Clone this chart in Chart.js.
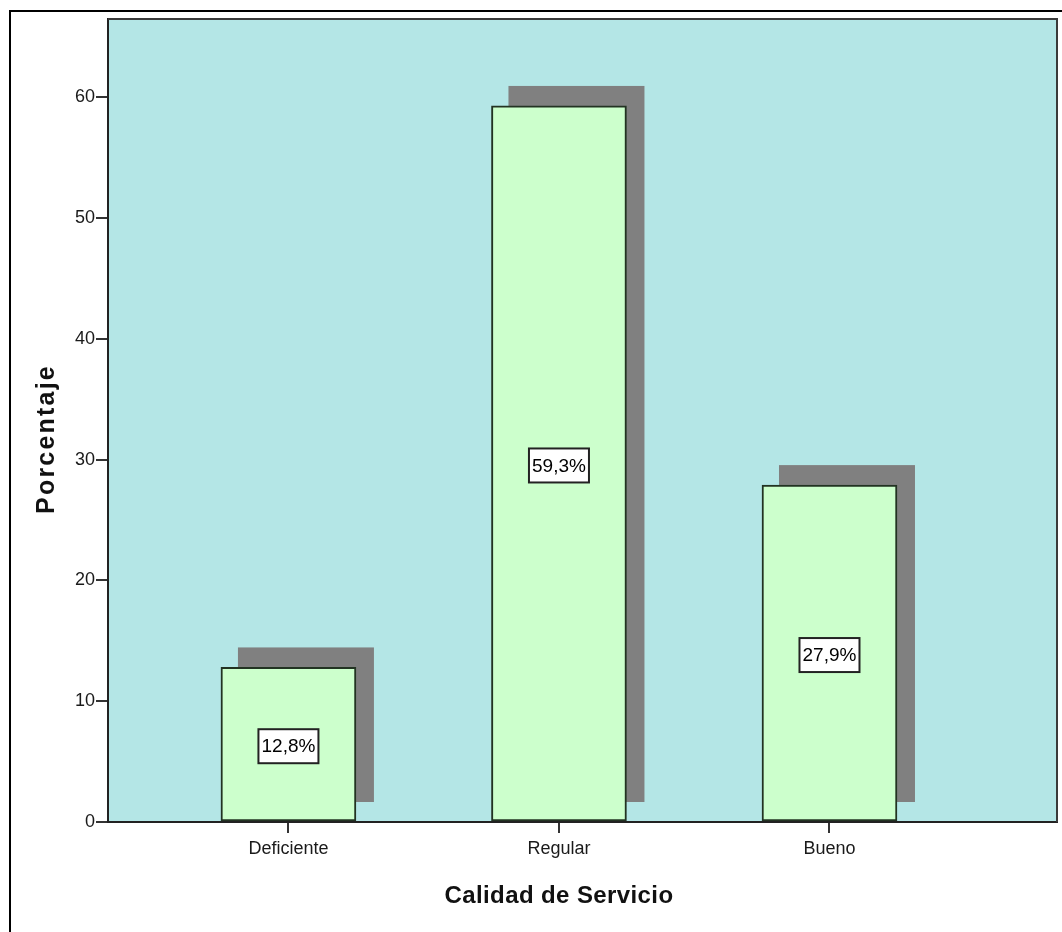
<!DOCTYPE html>
<html>
<head>
<meta charset="utf-8">
<script src="https://cdn.jsdelivr.net/npm/chart.js@4.4.1/dist/chart.umd.min.js"></script>
<style>
  html, body { margin: 0; padding: 0; background: #ffffff; }
  #wrap { width: 1062px; height: 932px; }
</style>
</head>
<body>
<div id="wrap"><canvas id="c" width="1062" height="932"></canvas></div>
<script>
// Calidad de Servicio — porcentaje por categoría
const categories = ['Deficiente', 'Regular', 'Bueno'];
const percentages = [12.8, 59.3, 27.9];
const yTickValues = [0, 10, 20, 30, 40, 50, 60];
const xTitle = 'Calidad de Servicio';
const yTitle = 'Porcentaje';

const SANS = '"Liberation Sans", Arial, sans-serif';

const formatPct = v => v.toFixed(1).replace('.', ',') + '%';

// Outer frame of the figure and the framed plot background
const framePlugin = {
  id: 'frame',
  beforeDraw(chart) {
    const { ctx, chartArea: a } = chart;
    ctx.save();
    ctx.strokeStyle = '#000000';
    ctx.lineWidth = 2;
    ctx.strokeRect(10, 11, chart.width + 20, chart.height + 20);
    ctx.fillStyle = '#b4e6e6';
    ctx.fillRect(a.left, a.top, a.right - a.left, a.bottom - a.top);
    ctx.restore();
  },
  afterDraw(chart) {
    const { ctx, chartArea: a } = chart;
    ctx.save();
    ctx.strokeStyle = '#3a3a3a';
    ctx.lineWidth = 2;
    ctx.beginPath();
    ctx.moveTo(a.left, a.top);
    ctx.lineTo(a.right, a.top);
    ctx.lineTo(a.right, a.bottom);
    ctx.stroke();
    ctx.restore();
  }
};

// Drop shadow behind each bar
const shadowPlugin = {
  id: 'barShadow',
  beforeDatasetsDraw(chart) {
    const { ctx } = chart;
    const meta = chart.getDatasetMeta(0);
    ctx.save();
    ctx.fillStyle = '#808080';
    meta.data.forEach(el => {
      const { x, y, base, width } = el.getProps(['x', 'y', 'base', 'width'], true);
      const left = x - width / 2 + 17;
      const top = y - 20;
      ctx.fillRect(left, top, width + 1, (base - 19) - top);
    });
    ctx.restore();
  }
};

// Boxed value labels in the middle of each bar
const valueLabelPlugin = {
  id: 'valueLabels',
  afterDatasetsDraw(chart) {
    const { ctx } = chart;
    const meta = chart.getDatasetMeta(0);
    const values = chart.data.datasets[0].data;
    ctx.save();
    ctx.font = '19px ' + SANS;
    ctx.textAlign = 'center';
    ctx.textBaseline = 'middle';
    meta.data.forEach((el, i) => {
      const { x, y, base } = el.getProps(['x', 'y', 'base'], true);
      const cy = (y + base) / 2 + 2;
      const text = formatPct(values[i].y);
      const w = 60, h = 34;
      ctx.fillStyle = '#ffffff';
      ctx.fillRect(x - w / 2, cy - h / 2, w, h);
      ctx.strokeStyle = '#222222';
      ctx.lineWidth = 2;
      ctx.strokeRect(x - w / 2, cy - h / 2, w, h);
      ctx.fillStyle = '#000000';
      ctx.fillText(text, x, cy + 1);
    });
    ctx.restore();
  }
};

// Axis titles, slightly letter-spaced
const axisTitlePlugin = {
  id: 'axisTitles',
  afterDraw(chart) {
    const { ctx } = chart;
    const xs = chart.scales.x;
    ctx.save();
    ctx.fillStyle = '#111111';
    ctx.textAlign = 'center';
    ctx.textBaseline = 'alphabetic';
    ctx.font = 'bold 24px ' + SANS;
    if ('letterSpacing' in ctx) ctx.letterSpacing = '0.4px';
    ctx.fillText(xTitle, xs.getPixelForValue(1), 903);
    ctx.translate(54, 440);
    ctx.rotate(-Math.PI / 2);
    ctx.font = 'bold 25px ' + SANS;
    if ('letterSpacing' in ctx) ctx.letterSpacing = '2.2px';
    ctx.fillText(yTitle, 1, 0);
    ctx.restore();
  }
};

new Chart(document.getElementById('c'), {
  type: 'bar',
  data: {
    datasets: [{
      data: percentages.map((v, i) => ({ x: i, y: v })),
      backgroundColor: '#ccffcc',
      borderColor: '#223322',
      borderWidth: 2,
      borderSkipped: false,
      barThickness: 135
    }]
  },
  options: {
    responsive: false,
    animation: false,
    layout: { padding: { top: 19, right: 5, left: 0, bottom: 0 } },
    plugins: {
      legend: { display: false },
      tooltip: { enabled: false }
    },
    scales: {
      x: {
        type: 'linear',
        offset: false,
        min: -0.667,
        max: 2.841,
        afterBuildTicks: s => { s.ticks = categories.map((_, i) => ({ value: i })); },
        afterFit: s => { s.height = 110; },
        ticks: {
          callback: v => categories[v] ?? '',
          color: '#1a1a1a',
          font: { family: SANS, size: 18 },
          padding: 5,
          maxRotation: 0,
          autoSkip: false
        },
        grid: { offset: false, drawOnChartArea: false, drawTicks: true, tickLength: 11, color: '#333333', lineWidth: 2 },
        border: { display: true, color: '#222222', width: 2 }
      },
      y: {
        min: 0,
        max: 66.5,
        afterBuildTicks: s => { s.ticks = yTickValues.map(v => ({ value: v })); },
        afterFit: s => { s.width = 108; },
        ticks: {
          color: '#1a1a1a',
          font: { family: SANS, size: 18 },
          padding: 1
        },
        grid: { drawOnChartArea: false, drawTicks: true, tickLength: 12, color: '#333333', lineWidth: 2 },
        border: { display: true, color: '#222222', width: 2 }
      }
    }
  },
  plugins: [framePlugin, shadowPlugin, valueLabelPlugin, axisTitlePlugin]
});
</script>
</body>
</html>
